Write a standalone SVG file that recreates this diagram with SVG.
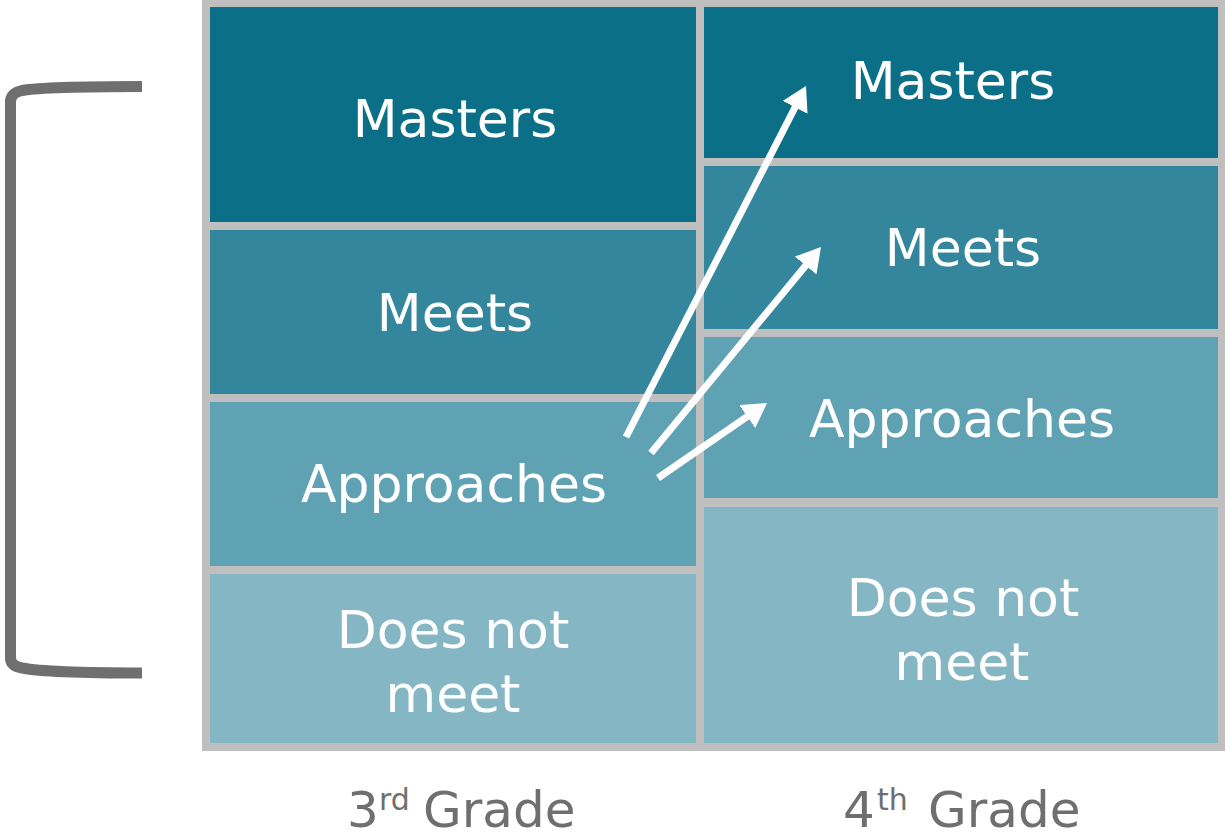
<svg xmlns="http://www.w3.org/2000/svg" width="1225" height="840" viewBox="0 0 1225 840">
<defs>
<style>
.lbl{font-family:"DejaVu Sans",Verdana,sans-serif;font-size:52px;fill:#ffffff;text-anchor:middle}
.axis{font-family:"DejaVu Sans",Verdana,sans-serif;font-size:50px;fill:#6f6f6f}
.sup{font-size:30px}
.m{fill:#0b6f88}.me{fill:#33869b}.ap{fill:#5fa2b4}.dn{fill:#85b6c4}
.arr{stroke:#ffffff;stroke-width:7;fill:none;marker-end:url(#ah)}
</style>
<marker id="ah" viewBox="0 0 24 28" markerUnits="userSpaceOnUse" markerWidth="24" markerHeight="28" refX="6" refY="14" orient="auto">
<path d="M0,0 L24,14 L0,28 z" fill="#ffffff"/>
</marker>
</defs>
<rect x="0" y="0" width="1225" height="840" fill="#ffffff"/>
<rect id="grid-bg" x="202" y="0" width="1023" height="751" fill="#bfbfbf"/>
<g id="g3-masters"><rect class="m" x="210" y="7" width="486" height="215"/><text class="lbl" x="455" y="137">Masters</text></g>
<g id="g3-meets"><rect class="me" x="210" y="230" width="486" height="164"/><text class="lbl" x="455" y="331">Meets</text></g>
<g id="g3-approaches"><rect class="ap" x="210" y="402" width="486" height="164"/><text class="lbl" x="454" y="502">Approaches</text></g>
<g id="g3-doesnot"><rect class="dn" x="210" y="574" width="486" height="169"/><text class="lbl" x="453" y="648">Does not</text><text class="lbl" x="453" y="712">meet</text></g>
<g id="g4-masters"><rect class="m" x="704" y="7" width="514" height="151"/><text class="lbl" x="953" y="99">Masters</text></g>
<g id="g4-meets"><rect class="me" x="704" y="166" width="514" height="163"/><text class="lbl" x="963" y="266">Meets</text></g>
<g id="g4-approaches"><rect class="ap" x="704" y="337" width="514" height="161"/><text class="lbl" x="962" y="437">Approaches</text></g>
<g id="g4-doesnot"><rect class="dn" x="704" y="507" width="514" height="236"/><text class="lbl" x="963" y="616">Does not</text><text class="lbl" x="962" y="680">meet</text></g>
<g id="connectors">
<line class="arr" x1="626" y1="437" x2="797.8" y2="102"/>
<line class="arr" x1="651" y1="453" x2="809.5" y2="260.9"/>
<line class="arr" x1="658" y1="478" x2="752.2" y2="413.2"/>
</g>
<g id="bracket">
<path d="M142,86.5 C80,86.5 40,87.5 22,90.5 Q10.5,93 10.5,102 L10.5,658 Q10.5,666 22,668 C40,671.5 80,673 142,673" fill="none" stroke="#6f6f6f" stroke-width="11"/>
</g>
<g id="axis-labels">
<text class="axis" x="347" y="827">3</text><text class="axis sup" x="379" y="810">rd</text><text class="axis" x="423" y="827">Grade</text>
<text class="axis" x="843" y="827">4</text><text class="axis sup" x="877" y="810">th</text><text class="axis" x="928" y="827">Grade</text>
</g>
</svg>
